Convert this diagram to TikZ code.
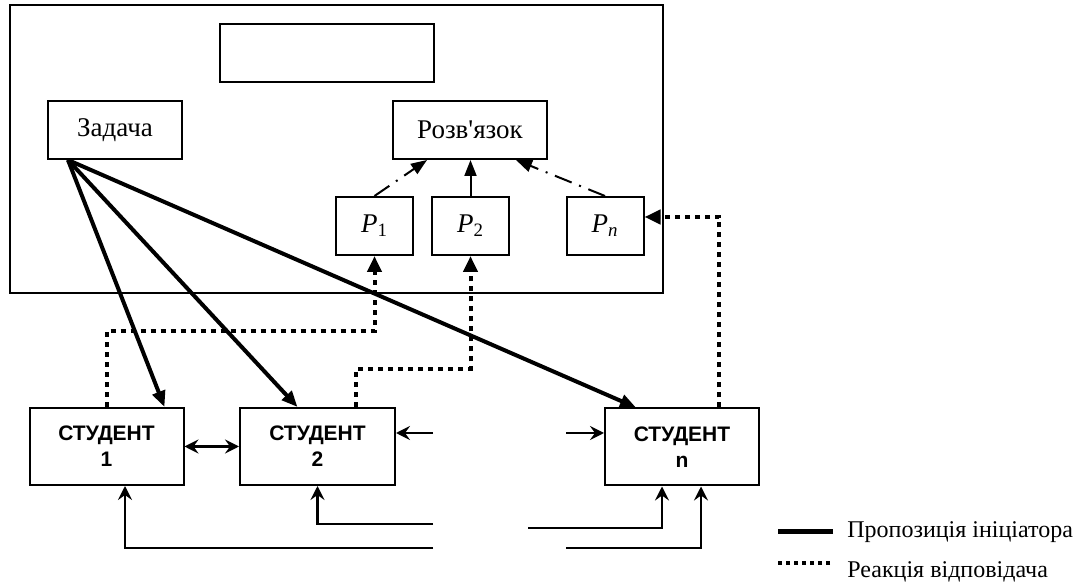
\documentclass[tikz,border=0pt]{standalone}
\usepackage{fontspec}
\setmainfont{Liberation Serif}
\setsansfont{Liberation Sans}
\usetikzlibrary{positioning, arrows.meta}

\begin{document}
\begin{tikzpicture}[x=0.5pt, y=-0.5pt,
    box/.style={draw, line width=1pt, inner sep=0pt, minimum height=29pt, font=\fontsize{13.5}{15}\selectfont},
    pbox/.style={box, minimum width=38.5pt},
    student/.style={draw, line width=1pt, inner sep=0pt, minimum width=77pt, minimum height=38.5pt, align=center, font=\sffamily\bfseries\fontsize{10.5}{13}\selectfont},
    propose/.style={line width=2pt, -{Triangle[length=8pt,width=6.5pt]}},
    reply/.style={line width=2pt, dash pattern=on 2.5pt off 2.5pt, -{Triangle[length=8pt,width=7pt]}},
    vote/.style={line width=1pt, dash pattern=on 9pt off 4pt on 1pt off 4pt, -{Triangle[length=8pt,width=6pt]}},
    solid/.style={line width=1pt, -{Triangle[length=8pt,width=6pt]}},
    link/.style={line width=1.1pt, -{Stealth[length=7pt,width=7pt,inset=2.5pt]}},
    legend/.style={anchor=west, inner sep=0pt, font=\fontsize{12}{14}\selectfont}]
        \useasboundingbox (0,0) rectangle (1083,582);

        % Outer frame
        \draw[line width=1pt] (10,5) rectangle (663,293);

        % Top boxes
        \node[box, minimum width=107pt] (title) at (327,53) {};
        \node[box, minimum width=67pt] (zad) at (115,130) {Задача};
        \node[box, minimum width=77pt] (rozv) at (470,130) {Розв\textquotesingle язок};

        % Proposals
        \node[pbox] (p1) at (374.5,226) {\textit{P}\textsubscript{1}};
        \node[pbox] (p2) at (470.5,226) {\textit{P}\textsubscript{2}};
        \node[pbox] (pn) at (605,226) {\textit{P}\textsubscript{\itshape n}};

        % Students
        \node[student] (st1) at (106.5,446.5) {СТУДЕНТ\\1};
        \node[student, minimum width=77.5pt] (st2) at (317.5,446.5) {СТУДЕНТ\\2};
        \node[student] (stn) at (682,447) {СТУДЕНТ\\n};

        % Proposals to the solution
        \draw[vote] (p1.north) -- ([xshift=-21.5pt]rozv.south);
        \draw[solid] (p2.north) -- (p2.north |- rozv.south);
        \draw[vote] (pn.north) -- ([xshift=23pt]rozv.south);

        % Task to students
        \draw[propose] ([xshift=-23.5pt]zad.south) -- ([xshift=-10pt]st1.north east);
        \draw[propose] ([xshift=-23.5pt]zad.south) -- ([xshift=-10pt]st2.north);
        \draw[propose] ([xshift=-23.5pt]zad.south) -- ([xshift=16pt]stn.north west);

        % Replies
        \draw[reply] (st1.north) -- ++(0,-76) -| (p1.south);
        \draw[reply] ([xshift=-20pt]st2.north east) -- ++(0,-38) -| (p2.south);
        \draw[reply] ([xshift=-20.5pt]stn.north east) |- ([yshift=4.5pt]pn.east);

        % Links between students
        \coordinate (gl1) at (433,433);
        \coordinate (gr1) at (566,433);
        \coordinate (gl2) at (433,524);
        \coordinate (gl3) at (433,548);
        \coordinate (gr2) at (528,528);
        \coordinate (gr3) at (566,548);
        \draw[link, {Stealth[length=7pt,width=7pt,inset=2.5pt]}-{Stealth[length=7pt,width=7pt,inset=2.5pt]}] (st1.east) -- (st2.west);
        \draw[link] (gl1) -- (gl1 -| st2.east);
        \draw[link] (gr1) -- (gr1 -| stn.west);
        \draw[link] (gl2) -| (st2.south);
        \draw[link] (gl3) -| ([xshift=9.25pt]st1.south);
        \draw[link] (gr2) -| ([xshift=-10pt]stn.south);
        \draw[link] (gr3) -| ([xshift=9.5pt]stn.south);

        % Legend
        \node[legend] (lga) at (847,532) {Пропозиція ініціатора};
        \node[legend] (lgb) at (847,572) {Реакція відповідача};
        \draw[line width=2.5pt] ([xshift=-7pt]lga.west) -- ++(-55,0);
        \draw[line width=2pt, dash pattern=on 2pt off 2pt] ([xshift=-8.5pt,yshift=4.5pt]lgb.west) -- ++(-52,0);
\end{tikzpicture}
\end{document}
